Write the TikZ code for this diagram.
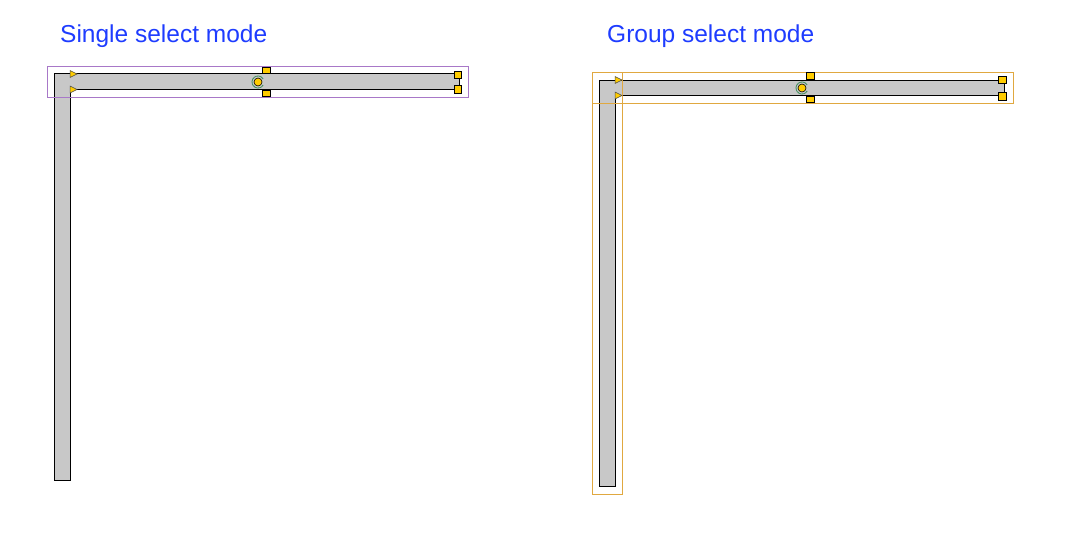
\documentclass[tikz,border=0pt]{standalone}
\usepackage{fontspec}
\setmainfont{Liberation Sans}
\definecolor{titleblue}{HTML}{1E3CFF}
\definecolor{wallgray}{HTML}{C8C8C8}
\definecolor{handle}{HTML}{FFCC00}
\definecolor{selpurple}{HTML}{A878C8}
\definecolor{selorange}{HTML}{E0A840}
\definecolor{rotgreen}{HTML}{3C8C5A}
\begin{document}
\begin{tikzpicture}[x=1pt,y=-1pt,
  title/.style={anchor=base west, inner sep=0pt, text=titleblue, font=\fontsize{24.5}{28}\selectfont},
  wall/.style={draw=black, line width=1pt, fill=wallgray},
  sq/.style={draw=black, line width=0.8pt, fill=handle},
  tri/.style={draw=black!70, line width=0.5pt, fill=handle},
  selbox/.style={line width=0.8pt}]
\useasboundingbox (0,0) rectangle (1068,543);
% titles
\node[title] (t1) at (60,43) {Single select mode};
\node[title] (t2) at (607,43) {Group select mode};

% ---------- single select ----------
\draw[wall] (54,74) -- (459,74) -- (459,89) -- (70,89) -- (70,480) -- (54,480) -- cycle;
\draw[selbox, draw=selpurple] (47,66) rectangle (468,97);
\draw[tri] (70,70.5) -- (77,74) -- (70,77.5) -- cycle;
\draw[tri] (70,86) -- (77,89.5) -- (70,93) -- cycle;
\draw[sq] (262,67) rectangle (270,73);
\draw[sq] (262,90) rectangle (270,96);
\draw[sq] (454,71) rectangle (461,78);
\draw[sq] (454,85) rectangle (461,93);
\draw[rotgreen, line width=0.8pt] (258,82) ++(30:6) arc[start angle=30, end angle=330, radius=6];
\draw[black, line width=0.6pt, fill=handle] (258,82) circle (4);

% ---------- group select ----------
\draw[wall] (599,80) -- (1004,80) -- (1004,95) -- (615,95) -- (615,486) -- (599,486) -- cycle;
\draw[selbox, draw=selorange] (592,72) rectangle (1013,103);
\draw[selbox, draw=selorange] (592,72) rectangle (622,494);
\draw[tri] (615,76.5) -- (622,80) -- (615,83.5) -- cycle;
\draw[tri] (615,92) -- (622,95.5) -- (615,99) -- cycle;
\draw[sq] (806,72) rectangle (814,79);
\draw[sq] (806,96) rectangle (814,102);
\draw[sq] (998,76) rectangle (1006,83);
\draw[sq] (998,92) rectangle (1006,100);
\draw[rotgreen, line width=0.8pt] (802,88) ++(30:6) arc[start angle=30, end angle=330, radius=6];
\draw[black, line width=0.6pt, fill=handle] (802,88) circle (4);
\end{tikzpicture}
\end{document}
